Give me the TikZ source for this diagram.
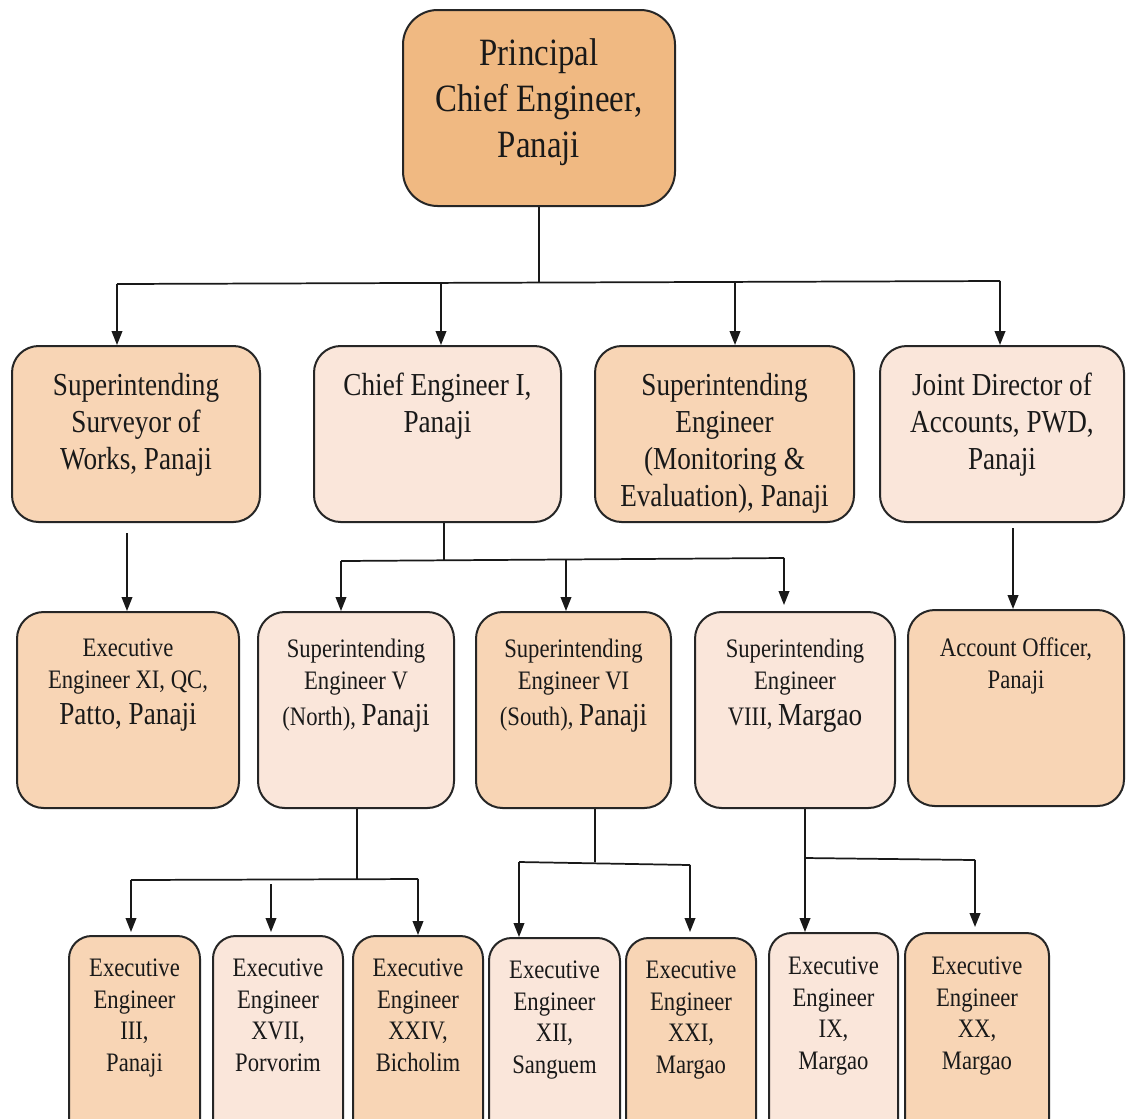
\documentclass[tikz,border=0pt]{standalone}
\usepackage{fontspec}
\setmainfont[FakeStretch=0.85]{Liberation Serif}
\usetikzlibrary{arrows.meta}
\definecolor{cTop}{HTML}{F0B982}
\definecolor{cMid}{HTML}{F8D5B5}
\definecolor{cLight}{HTML}{FAE6DA}
\newcommand\ftop{\fontsize{29}{34.5}\selectfont}
\newcommand\frowb{\fontsize{24}{27.75}\selectfont}
\newcommand\frowc{\fontsize{20}{24}\selectfont}
\newcommand\frowd{\fontsize{20}{23.6}\selectfont}
\newcommand\bigtxt[1]{{\fontsize{24}{27}\selectfont #1}}
\newcommand\obox[9]{%
  \node[box,#2,minimum width={(#5-#3)*0.75pt},minimum height={(#6-#4)*0.75pt}] (#1) at ({(#3+#5)/2},{(#4+#6)/2}) {};
  \node[txt,font=#7,anchor=north] (#1t) at ({(#3+#5)/2},#8) {#9};}
\tikzset{
  box/.style={draw=black!85,line width=1.5pt,rounded corners=20pt,rectangle,inner sep=0pt},
  dark/.style={fill=cTop},
  mid/.style={fill=cMid},
  light/.style={fill=cLight},
  txt/.style={align=center,inner sep=0pt,text=black!90},
  ln/.style={line width=1.3pt,draw=black!90},
  arr/.style={ln,-{Triangle[length=10.5pt,width=8pt]}}
}
\begin{document}
\begin{tikzpicture}[x=0.75pt,y=-0.75pt]
\clip (0,0) rectangle (1126,1118);
\fill[white] (0,0) rectangle (1126,1118);
% top
\obox{top}{dark,rounded corners=26pt}{403}{10}{675}{206}{\ftop}{38}{Principal\\Chief Engineer,\\Panaji}
% row 2
\obox{ssw}{mid}{12}{346}{260}{522}{\frowb}{373}{Superintending\\Surveyor of\\Works, Panaji}
\obox{ce1}{light}{314}{346}{561}{522}{\frowb}{373}{Chief Engineer I,\\Panaji}
\obox{sem}{mid}{595}{346}{854}{522}{\frowb}{373}{Superintending\\Engineer\\(Monitoring \&\\Evaluation), Panaji}
\obox{jda}{light}{880}{346}{1124}{522}{\frowb}{373}{Joint Director of\\Accounts, PWD,\\Panaji}
% row 3
\obox{ee11}{mid}{17}{612}{239}{808}{\frowc}{639}{Executive\\Engineer XI, QC,\\[3pt]\bigtxt{Patto, Panaji}}
\obox{se5}{light}{258}{612}{454}{808}{\frowc}{639}{Superintending\\Engineer V\\[3pt](North), \bigtxt{Panaji}}
\obox{se6}{mid}{476}{612}{671}{808}{\frowc}{639}{Superintending\\Engineer VI\\[3pt](South), \bigtxt{Panaji}}
\obox{se8}{light}{695}{612}{895}{808}{\frowc}{639}{Superintending\\Engineer\\[3pt]VIII, \bigtxt{Margao}}
\obox{ao}{mid}{908}{610}{1124}{806}{\frowc}{637}{Account Officer,\\Panaji}
% row 4
\obox{ee3}{mid,rounded corners=17pt}{69}{936}{200}{1150}{\frowd}{959}{Executive\\Engineer\\III,\\Panaji}
\obox{ee17}{light,rounded corners=17pt}{213}{936}{343}{1150}{\frowd}{959}{Executive\\Engineer\\XVII,\\Porvorim}
\obox{ee24}{mid,rounded corners=17pt}{353}{936}{483}{1150}{\frowd}{959}{Executive\\Engineer\\XXIV,\\Bicholim}
\obox{ee12}{light,rounded corners=17pt}{489}{938}{620}{1150}{\frowd}{961}{Executive\\Engineer\\XII,\\Sanguem}
\obox{ee21}{mid,rounded corners=17pt}{626}{938}{756}{1150}{\frowd}{961}{Executive\\Engineer\\XXI,\\Margao}
\obox{ee9}{light,rounded corners=17pt}{769}{933}{898}{1150}{\frowd}{957}{Executive\\Engineer\\IX,\\Margao}
\obox{ee20}{mid,rounded corners=17pt}{905}{933}{1049}{1150}{\frowd}{957}{Executive\\Engineer\\XX,\\Margao}
% connectors: top to row 2
\coordinate (h1) at (539,283);
\coordinate (a1) at (117,284);
\coordinate (a2) at (441,283);
\coordinate (a3) at (735,282);
\coordinate (a4) at (1000,281);
\draw[ln] (top.south) -- (h1);
\draw[ln] (a1) -- (a4);
\draw[arr] (a1) -- (a1 |- ssw.north);
\draw[arr] (a2) -- (a2 |- ce1.north);
\draw[arr] (a3) -- (a3 |- sem.north);
\draw[arr] (a4) -- (a4 |- jda.north);
% row 2 to row 3
\coordinate (s1) at (127,533);
\draw[arr] (s1) -- (s1 |- ee11.north);
\coordinate (j1) at (1013,528);
\draw[arr] (j1) -- (j1 |- ao.north);
\coordinate (c0) at (444,560);
\coordinate (c1) at (341,561);
\coordinate (c2) at (566,560);
\coordinate (c3) at (784,558);
\draw[ln] (c0 |- ce1.south) -- (c0);
\draw[ln] (c1) -- (c3);
\draw[arr] (c1) -- (c1 |- se5.north);
\draw[arr] (c2) -- (c2 |- se6.north);
\draw[arr] (c3) -- (784,605);
% SE V to row 4
\coordinate (v0) at (357,879);
\coordinate (v1) at (131,880);
\coordinate (v2) at (271,884);
\coordinate (v3) at (418,879);
\draw[ln] (v0 |- se5.south) -- (v0);
\draw[ln] (v1) -- (v3);
\draw[arr] (v1) -- (131,932);
\draw[arr] (v2) -- (271,932);
\draw[arr] (v3) -- (v3 |- ee24.north);
% SE VI to row 4
\coordinate (w0) at (595,862);
\coordinate (w1) at (519,862);
\coordinate (w2) at (690,865);
\draw[ln] (w0 |- se6.south) -- (w0);
\draw[ln] (w1) -- (w2);
\draw[arr] (w1) -- (w1 |- ee12.north);
\draw[arr] (w2) -- (690,932);
% SE VIII to row 4
\coordinate (u0) at (805,858);
\coordinate (u2) at (975,860);
\draw[ln] (u0 |- se8.south) -- (u0);
\draw[ln] (u0) -- (u2);
\draw[arr] (u0) -- (u0 |- ee9.north);
\draw[arr] (u2) -- (975,927);
\end{tikzpicture}
\end{document}
